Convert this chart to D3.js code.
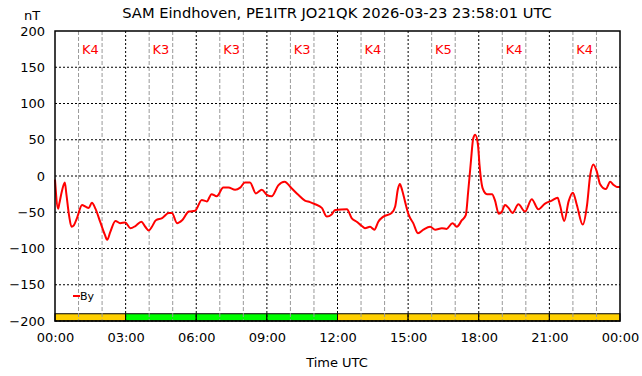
<!DOCTYPE html>
<html>
<head>
<meta charset="utf-8">
<script src="https://cdn.jsdelivr.net/npm/d3@7"></script>
<style>
    body { margin: 0; background: #fff; }
    text { font-family: "DejaVu Sans", sans-serif; }
</style>
</head>
<body>
<div id="chart"></div>
<script>
//Minutes of the day and By values (nT)
const minutes = [0, 8, 11, 18, 25, 29, 36, 42, 48, 56, 69, 77, 86, 94, 103, 115, 127, 133, 141, 154,
    166, 179, 192, 205, 220, 230, 239, 247, 257, 273, 290, 298, 311, 324, 341, 357, 374, 387, 399, 412,
    429, 442, 459, 472, 484, 497, 512, 527, 540, 552, 569, 585, 603, 620, 637, 650, 663, 680, 693, 705,
    714, 744, 756, 769, 782, 790, 803, 814, 824, 837, 858, 867, 874, 879, 885, 892, 901, 913, 925, 939,
    956, 969, 986, 998, 1013, 1024, 1037, 1047, 1053, 1060, 1066, 1071, 1078, 1082, 1090, 1101, 1114, 1121, 1131, 1138,
    1147, 1156, 1166, 1181, 1198, 1215, 1232, 1249, 1266, 1281, 1287, 1298, 1309, 1320, 1330, 1345, 1356, 1364, 1372, 1381,
    1389, 1404, 1415, 1423, 1432, 1440];
const byValues = [-5, -45, -38, -20, -9, -25, -55, -70, -68, -58, -40, -42, -44, -37, -45, -63, -81, -88, -77, -62,
    -65, -64, -72, -69, -63, -70, -75, -70, -61, -58, -51, -51, -65, -61, -49, -48, -33, -35, -25, -28,
    -16, -16, -19, -16, -9, -9, -24, -19, -26, -28, -13, -8, -17, -26, -34, -36, -39, -44, -56, -53,
    -47, -46, -58, -63, -69, -72, -70, -74, -63, -56, -51, -42, -18, -11, -20, -35, -53, -65, -79, -74,
    -70, -74, -72, -73, -65, -70, -61, -54, -22, 20, 52, 57, 43, 15, -17, -25, -25, -33, -52, -50,
    -40, -44, -51, -39, -49, -32, -46, -38, -34, -30, -40, -62, -35, -23, -40, -67, -40, 1, 16, 6,
    -11, -18, -8, -12, -15, -15];

//K index per 3 hour block
const kValues = [4, 3, 3, 3, 4, 5, 4, 4];
const xTickLabels = ["00:00", "03:00", "06:00", "09:00", "12:00", "15:00", "18:00", "21:00", "00:00"];
const yTicks = [-200, -150, -100, -50, 0, 50, 100, 150, 200];

const W = 642, H = 376;
let margin = {top: 31, right: 22, bottom: 55, left: 55},
    width = W - margin.left - margin.right,
    height = H - margin.top - margin.bottom;

let svg = d3.select("#chart").append("svg")
    .attr("width", W)
    .attr("height", H);

let g = svg.append("g").attr("transform", "translate(" + margin.left + "," + margin.top + ")");

let xScale = d3.scaleLinear().domain([0, 1440]).range([0, width]);
let yScale = d3.scaleLinear().domain([-200, 200]).range([height, 0]);

//K index bar at the bottom
g.selectAll("rect.kbar")
    .data(kValues)
    .enter().append("rect")
    .attr("class", "kbar")
    .attr("x", (d, i) => xScale(i * 180))
    .attr("y", yScale(-190))
    .attr("width", xScale(180) - xScale(0))
    .attr("height", yScale(-200) - yScale(-190))
    .attr("fill", d => d >= 4 ? "#ffd000" : "#00ff00")
    .attr("stroke", "#000")
    .attr("stroke-width", 1);

//Minor grid (every hour)
g.selectAll("line.minor")
    .data(d3.range(60, 1440, 60).filter(m => m % 180 != 0))
    .enter().append("line")
    .attr("x1", d => xScale(d)).attr("x2", d => xScale(d))
    .attr("y1", 0).attr("y2", height)
    .attr("stroke", "#999")
    .attr("stroke-dasharray", "4,2");

//Major grid
g.selectAll("line.vmajor")
    .data(d3.range(180, 1440, 180))
    .enter().append("line")
    .attr("x1", d => xScale(d)).attr("x2", d => xScale(d))
    .attr("y1", 0).attr("y2", height)
    .attr("stroke", "#000")
    .attr("stroke-dasharray", "2,2");

g.selectAll("line.hmajor")
    .data(yTicks.slice(0, -1))
    .enter().append("line")
    .attr("x1", 0).attr("x2", width)
    .attr("y1", d => yScale(d)).attr("y2", d => yScale(d))
    .attr("stroke", "#000")
    .attr("stroke-dasharray", "2,2");

//K labels
g.selectAll("text.k")
    .data(kValues)
    .enter().append("text")
    .attr("x", (d, i) => xScale(i * 180 + 90))
    .attr("y", 23)
    .attr("text-anchor", "middle")
    .attr("fill", "#ff0000")
    .style("font-size", "13px")
    .text(d => "K" + d);

//Line
let lineGraph = d3.line()
    .x((d, i) => xScale(minutes[i]))
    .y(d => yScale(d))
    .curve(d3.curveMonotoneX);

g.append("path")
    .datum(byValues)
    .attr("fill", "none")
    .attr("stroke", "#ff0000")
    .attr("stroke-width", 2)
    .attr("d", lineGraph);

//Frame
g.append("rect")
    .attr("width", width).attr("height", height)
    .attr("fill", "none")
    .attr("stroke", "#000")
    .attr("stroke-width", 1.5);

//Axes
let yAxis = g.append("g")
    .call(d3.axisLeft(yScale).tickValues(yTicks).tickSize(0).tickPadding(10));
yAxis.select(".domain").remove();
yAxis.selectAll("text").style("font-size", "13px").style("font-family", "DejaVu Sans").attr("fill", "#000");

let xAxis = g.append("g")
    .attr("transform", "translate(0," + height + ")")
    .call(d3.axisBottom(xScale).tickValues(d3.range(0, 1441, 180))
        .tickFormat((d, i) => xTickLabels[i]).tickSize(0).tickPadding(12));
xAxis.select(".domain").remove();
xAxis.selectAll("text").style("font-size", "13px").style("font-family", "DejaVu Sans").attr("fill", "#000");

//Titles
svg.append("text")
    .attr("x", 337).attr("y", 18)
    .attr("text-anchor", "middle")
    .style("font-size", "14.7px")
    .text("SAM Eindhoven, PE1ITR JO21QK 2026-03-23 23:58:01 UTC");

svg.append("text")
    .attr("x", 32).attr("y", 20)
    .attr("text-anchor", "middle")
    .style("font-size", "13px")
    .text("nT");

svg.append("text")
    .attr("x", 337).attr("y", 367)
    .attr("text-anchor", "middle")
    .style("font-size", "13px")
    .text("Time UTC");

//Legend
svg.append("line")
    .attr("x1", 73).attr("x2", 80)
    .attr("y1", 296).attr("y2", 296)
    .attr("stroke", "#ff0000")
    .attr("stroke-width", 2);

svg.append("text")
    .attr("x", 80).attr("y", 300)
    .style("font-size", "11px")
    .text("By");
</script>
</body>
</html>
